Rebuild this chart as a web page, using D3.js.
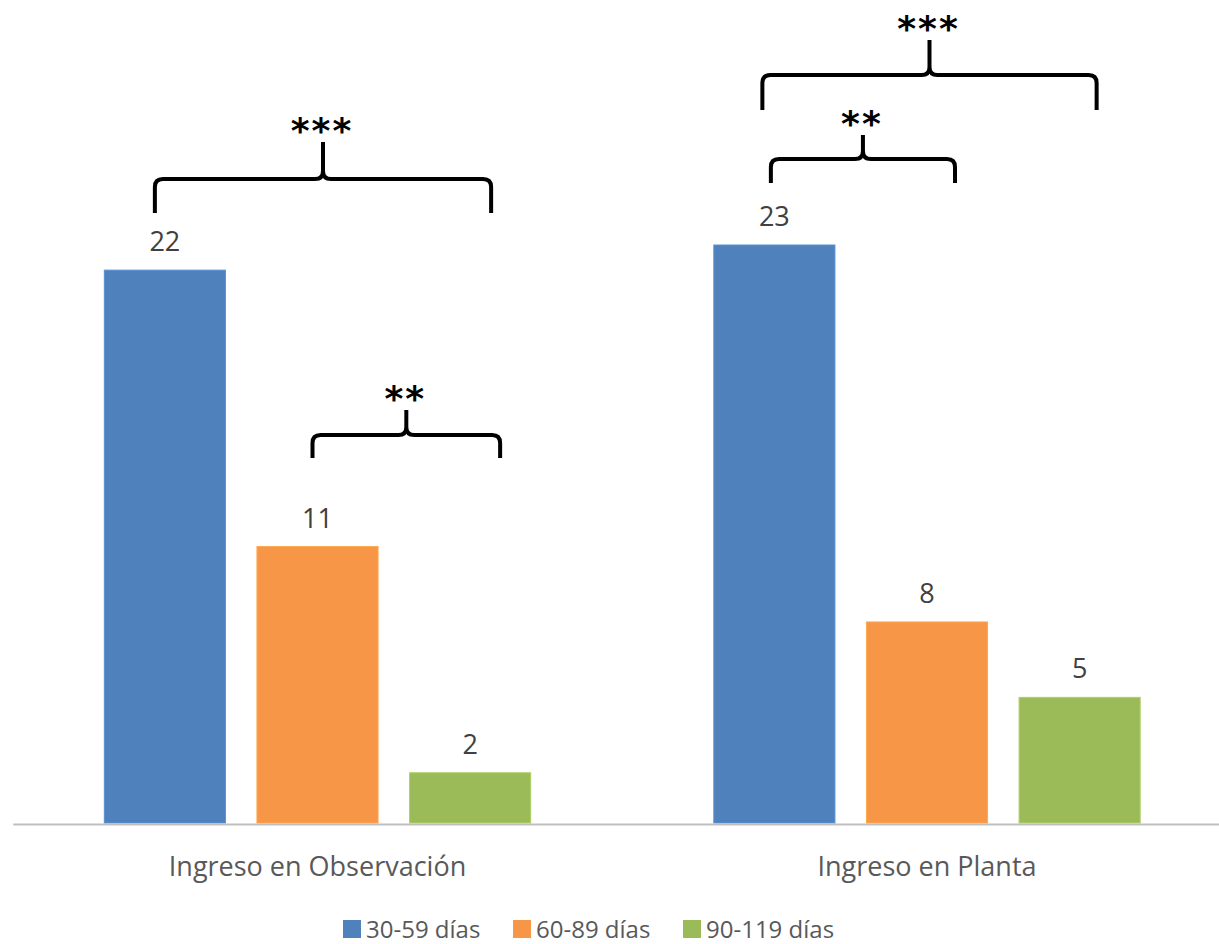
<!DOCTYPE html>
<html>
<head>
<meta charset="utf-8">
<script src="https://cdn.jsdelivr.net/npm/d3@7"></script>
<style>
  html, body { margin: 0; padding: 0; background: #fff; }
  svg { display: block; }
</style>
</head>
<body>
<svg id="chart" width="1219" height="944"></svg>
<script>
// ---- data ----
const categories = ["Ingreso en Observación", "Ingreso en Planta"];
const seriesNames = ["30-59 días", "60-89 días", "90-119 días"];
const values30_59 = [22, 23];
const values60_89 = [11, 8];
const values90_119 = [2, 5];
const seriesColors = ["#4F81BD", "#F79646", "#9BBB59"];
// significance brackets: group index, from series, to series, bottom level (value units), label
const bracketGroup = [0, 0, 1, 1];
const bracketFrom  = [0, 1, 0, 0];
const bracketTo    = [2, 2, 2, 1];
const bracketLevel = [24.27, 14.52, 28.37, 25.47];
const bracketLabel = ["***", "**", "***", "**"];

// ---- layout / style (not data) ----
const bracketOffL = [-10, -5, -12, -3.5];
const bracketOffR = [21, 30, 17, 28];
const bracketArm  = [34, 23, 35, 24];
const bracketPeak = [37, 25, 35, 24];

const seriesValues = [values30_59, values60_89, values90_119];
const svg = d3.select("#chart");
const baseY = 823;
const plotLeft = 12.75, plotRight = 1231.75;

const x0 = d3.scaleBand().domain(d3.range(categories.length)).range([plotLeft, plotRight]).paddingInner(0).paddingOuter(0);
const x1 = d3.scaleBand().domain(d3.range(seriesNames.length)).range([0, x0.bandwidth()]).paddingInner(0.2066).paddingOuter(0.6);
const y = d3.scaleLinear().domain([0, 30]).range([baseY, baseY - 30 * 25.13]);

// bars
categories.forEach((c, gi) => {
  seriesNames.forEach((s, si) => {
    const v = seriesValues[si][gi];
    const bx = x0(gi) + x1(si);
    svg.append("rect")
      .attr("x", bx).attr("y", y(v))
      .attr("width", x1.bandwidth()).attr("height", y(0) - y(v))
      .attr("fill", seriesColors[si])
      .attr("stroke", d3.color(seriesColors[si]).brighter(0.3))
      .attr("stroke-width", 1);
    svg.append("text")
      .attr("x", bx + x1.bandwidth() / 2).attr("y", y(v) - 19)
      .attr("text-anchor", "middle")
      .attr("font-family", "Open Sans, sans-serif")
      .attr("font-size", 27)
      .attr("fill", "#404040")
      .text(v);
  });
});

// axis
const xAxis = d3.axisBottom(x0).tickSize(0).tickFormat(i => categories[i]);
const gx = svg.append("g").attr("transform", `translate(0,${baseY + 1})`).call(xAxis);
gx.select(".domain").attr("stroke", "#BFBFBF").attr("stroke-width", 2);
gx.selectAll("text")
  .attr("font-family", "Open Sans, sans-serif")
  .attr("font-size", 27)
  .attr("fill", "#595959")
  .attr("dy", 0)
  .attr("y", 52);

// brackets
bracketGroup.forEach((g, i) => {
  const l = x0(g) + x1(bracketFrom[i]) + x1.bandwidth() / 2 + bracketOffL[i];
  const r = x0(g) + x1(bracketTo[i]) + x1.bandwidth() / 2 + bracketOffR[i];
  const bot = y(bracketLevel[i]);
  const h = bot - bracketArm[i];
  const top = h - bracketPeak[i];
  const cx = (l + r) / 2;
  const rr = 8;
  const p = d3.path();
  p.moveTo(l, bot);
  p.lineTo(l, h + rr);
  p.quadraticCurveTo(l, h, l + rr, h);
  p.lineTo(cx - rr, h);
  p.quadraticCurveTo(cx, h, cx, h - rr);
  p.lineTo(cx, top);
  p.moveTo(cx, h - rr);
  p.quadraticCurveTo(cx, h, cx + rr, h);
  p.lineTo(r - rr, h);
  p.quadraticCurveTo(r, h, r, h + rr);
  p.lineTo(r, bot);
  svg.append("path").attr("d", p.toString())
    .attr("fill", "none").attr("stroke", "#000").attr("stroke-width", 4)
    .attr("stroke-linecap", "butt").attr("stroke-linejoin", "round");
  svg.append("text")
    .attr("x", cx - 1).attr("y", top + 1)
    .attr("text-anchor", "middle")
    .attr("font-family", "DejaVu Sans, sans-serif")
    .attr("font-weight", "bold")
    .attr("font-size", 36)
    .attr("letter-spacing", 2)
    .attr("fill", "#000")
    .text(bracketLabel[i]);
});

// legend
const legendX = [343, 513, 683];
const legend = svg.append("g");
seriesNames.forEach((s, i) => {
  legend.append("rect").attr("x", legendX[i]).attr("y", 920)
    .attr("width", 18).attr("height", 18).attr("fill", seriesColors[i]);
  legend.append("text").attr("x", legendX[i] + 23).attr("y", 938)
    .attr("font-family", "Open Sans, sans-serif")
    .attr("font-size", 24)
    .attr("fill", "#595959")
    .text(s);
});
</script>
</body>
</html>
